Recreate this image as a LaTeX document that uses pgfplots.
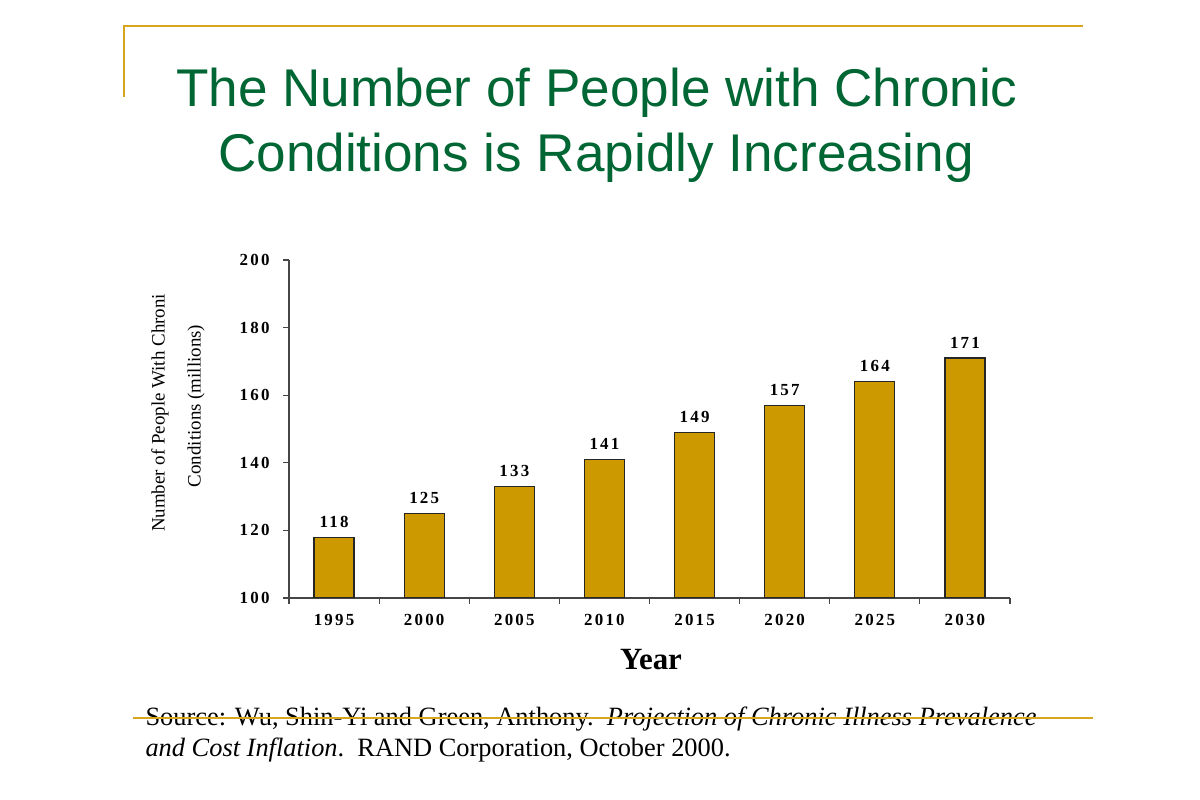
\documentclass[border=0pt]{standalone}
\usepackage{fontspec}
\setmainfont{Liberation Serif}
\newfontfamily\arialf{Liberation Sans}
\newfontfamily\tickf[LetterSpace=13]{Liberation Serif}
\usepackage{pgfplots}
\pgfplotsset{compat=1.18}
\definecolor{bargold}{RGB}{204,153,0}
\definecolor{linegold}{RGB}{214,166,30}
\definecolor{titlegreen}{RGB}{0,102,51}
\definecolor{axisgray}{RGB}{70,70,70}
\begin{document}
\begin{tikzpicture}[x=1bp,y=1bp]
\useasboundingbox (0,0) rectangle (1200,800);
\fill[white] (0,0) rectangle (1200,800);
\draw[linegold, line width=2bp] (124,703) -- (124,774) -- (1083,774);
\node[anchor=base, text=titlegreen, font=\arialf\fontsize{53.3}{60}\selectfont] at (597,693) {The Number of People with Chronic};
\node[anchor=base, text=titlegreen, font=\arialf\fontsize{53.3}{60}\selectfont] at (596,628) {Conditions is Rapidly Increasing};
\begin{axis}[
  at={(289bp,202bp)}, anchor=south west,
  scale only axis, width=721bp, height=338bp,
  ymin=100, ymax=200, xmin=-0.5, xmax=7.5,
  ybar, bar width=40bp,
  axis lines*=left,
  axis line style={draw=axisgray, line width=1.3bp},
  /pgf/number format/assume math mode=true,
  ytick={100,120,...,200},
  xtick={-0.5,0.5,...,7.5}, xticklabels={},
  extra x ticks={0,1,2,3,4,5,6,7},
  extra x tick labels={1995,2000,2005,2010,2015,2020,2025,2030},
  extra x tick style={major tick length=0pt},
  tick align=outside,
  major tick length=6bp,
  tick style={draw=axisgray, line width=1.2bp},
  yticklabel style={font=\tickf\bfseries\fontsize{17}{17}\selectfont, xshift=-10bp},
  xticklabel style={font=\tickf\bfseries\fontsize{17}{17}\selectfont, yshift=-13bp},
  nodes near coords,
  every node near coord/.append style={font=\tickf\bfseries\fontsize{17}{17}\selectfont, yshift=6bp, text=black},
]
\addplot[fill=bargold, draw=black!85, line width=1.2bp] coordinates {(0,118) (1,125) (2,133) (3,141) (4,149) (5,157) (6,164) (7,171)};
\end{axis}
\node[font=\bfseries\fontsize{31}{31}\selectfont] at (651,140) {Year};
\node[rotate=90, font=\fontsize{19}{19}\selectfont] at (160,387) {Number of People With Chroni};
\node[rotate=90, font=\fontsize{19}{19}\selectfont] at (196,394) {Conditions (millions)};
\node[anchor=base west, font=\fontsize{26.5}{26.5}\selectfont] at (142,74) {Source: Wu, Shin-Yi and Green, Anthony.\ \ \textit{Projection of Chronic Illness Prevalence}};
\node[anchor=base west, font=\fontsize{26.5}{26.5}\selectfont] at (142,43) {\textit{and Cost Inflation}.\ \ RAND Corporation, October 2000.};
\draw[linegold, line width=2bp] (133,82) -- (1093,82);
\end{tikzpicture}
\end{document}
